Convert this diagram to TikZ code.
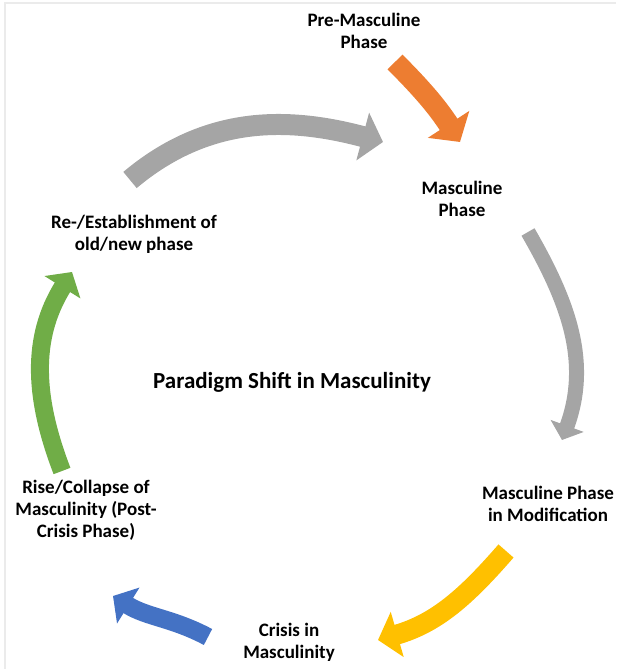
\documentclass[tikz,border=0pt]{standalone}
\usepackage{xcolor}
\usepackage{fontspec}
\setmainfont{Carlito}
\usepackage{tikz}
\usetikzlibrary{arrows.meta,positioning}

\definecolor{arrowgray}{RGB}{165,165,165}
\definecolor{arroworange}{RGB}{237,125,49}
\definecolor{arrowyellow}{RGB}{255,192,0}
\definecolor{arrowblue}{RGB}{68,114,196}
\definecolor{arrowgreen}{RGB}{112,173,71}
\definecolor{framegray}{RGB}{235,235,235}

\begin{document}
\begin{tikzpicture}[
    x=1pt, y=1pt,
    phase/.style={align=center, inner sep=0pt, font=\bfseries\fontsize{19}{22}\selectfont},
    title/.style={inner sep=0pt, font=\bfseries\fontsize{23}{27}\selectfont},
    blockarrow/.style={line width=#1, -{Triangle[length=0pt 1.0, width=0pt 2.3]}},
    blockarrow/.default=19pt
]
\useasboundingbox (0,0) rectangle (616,669);

% Frame
\draw[framegray, line width=2pt] (5,0) |- (616,666);

% Labels
\node[phase] (pre) at (364,638) {Pre-Masculine\\Phase};
\node[phase] (masc) at (462,470) {Masculine\\Phase};
\node[phase] (modif) at (548,165) {Masculine Phase\\in Modification};
\node[phase] (crisis) at (289,27) {Crisis in\\Masculinity};
\node[phase] (rise) at (86,159) {Rise/Collapse of\\Masculinity (Post-\\Crisis Phase)};
\node[phase] (reest) at (134,435) {Re-/Establishment of\\old/new phase};
\node[title] (shift) at (292,287) {Paradigm Shift in Masculinity};

% Arrow ends
\coordinate (o1) at (395,607);
\coordinate (o2) at (460,527);
\coordinate (g1) at (528,437);
\coordinate (g2) at (562,229);
\coordinate (y1) at (506,118);
\coordinate (y2) at (378,29);
\coordinate (b1) at (208,32);
\coordinate (b2) at (113,73);
\coordinate (n1) at (62,198);
\coordinate (n2) at (72,397);
\coordinate (t1) at (130,489);
\coordinate (t2) at (383,527);

% Arrows
\draw[blockarrow=21pt, arroworange] (o1) to[out=-45, in=123] (o2);
\draw[blockarrow=15pt, arrowgray] (g1) to[out=-60, in=70] (g2);
\draw[blockarrow=20pt, arrowyellow] (y1) to[out=229, in=16] (y2);
\draw[blockarrow=18pt, arrowblue] (b1) to[out=152, in=-32] (b2);
\draw[blockarrow=18pt, arrowgreen] (n1) to[out=111, in=238] (n2);
\draw[blockarrow=21pt, arrowgray] (t1) to[out=40, in=165] (t2);

\end{tikzpicture}
\end{document}
